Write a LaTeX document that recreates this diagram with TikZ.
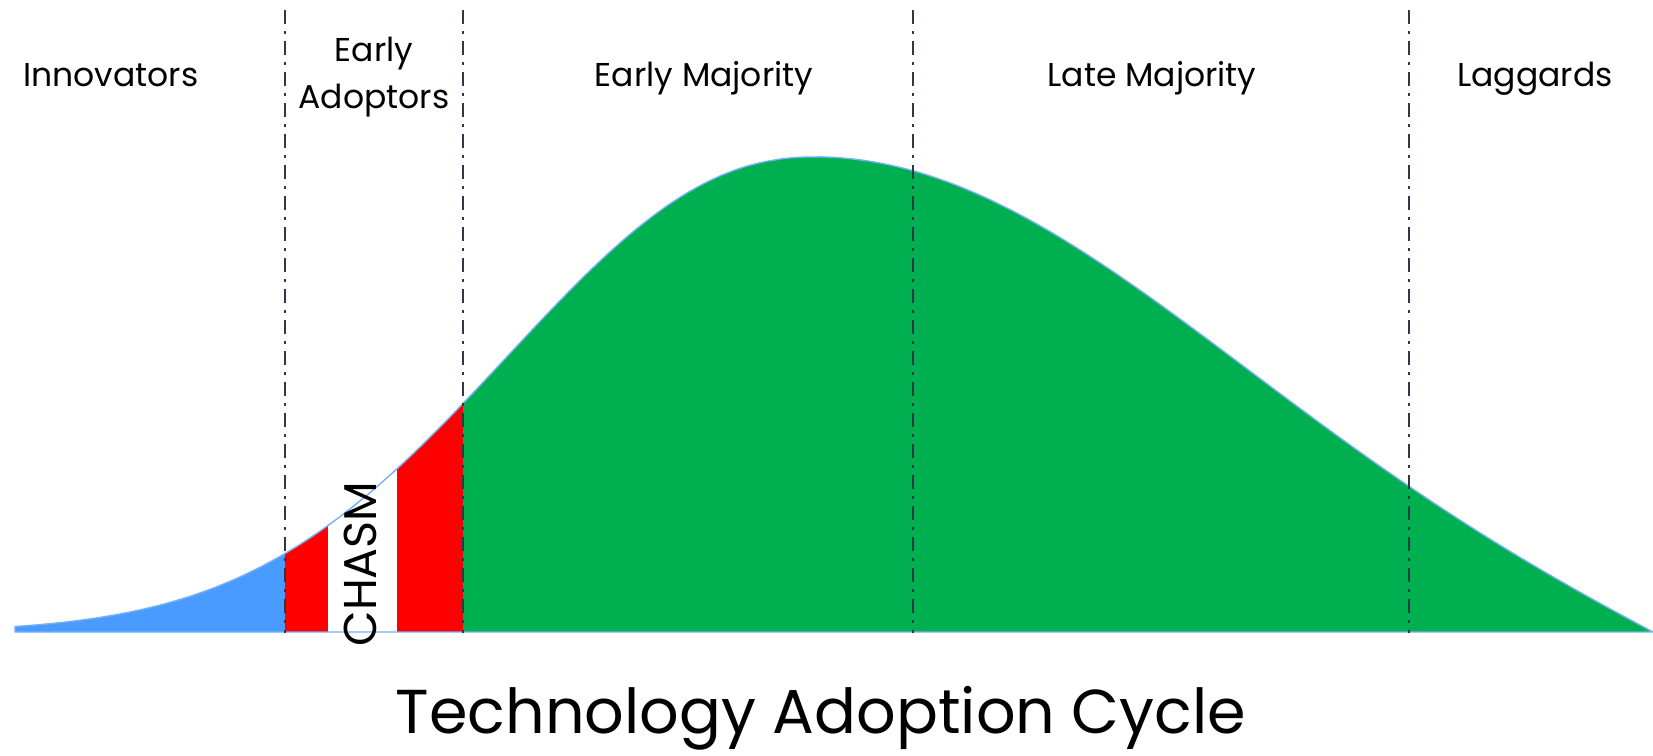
\documentclass[tikz,border=0pt]{standalone}
\usepackage{fontspec}
\setmainfont{Poppins}
\definecolor{innoblue}{RGB}{74,155,255}
\definecolor{chasmred}{RGB}{255,0,0}
\definecolor{majgreen}{RGB}{0,176,80}
\definecolor{edgeblue}{RGB}{120,175,245}
\definecolor{splitgray}{RGB}{46,56,70}
\begin{document}
\begin{tikzpicture}[x=0.5pt,y=-0.5pt,
    split/.style={splitgray,line width=1.1pt,dash pattern=on 7pt off 3.5pt on 1.5pt off 3.5pt},
    phase/.style={font=\fontsize{16.5}{23.5}\selectfont,align=center,anchor=base,inner sep=0pt}]
    \useasboundingbox (0,0) rectangle (1653,755);
    \path[save path=\bellarea] (15,632) -- plot[domain=15:1653,samples=320,smooth]
        (\x,{632-(\x<815 ? 475*exp(-0.5*(abs(815-\x)/296)^2.2) : 475*(exp(-0.5*(abs(\x-815)/403)^2)-0.1151*(abs(\x-815)/838)^3.83))}) -- cycle;
    \begin{scope}
        \clip[use path=\bellarea];
        \fill[innoblue] (0,100) rectangle (285,640);
        \fill[chasmred] (285,100) rectangle (328,640);
        \fill[chasmred] (397,100) rectangle (463,640);
        \fill[majgreen] (463,100) rectangle (1660,640);
    \end{scope}
    \draw[edgeblue,line width=0.7pt,use path=\bellarea];
    \foreach \xs in {285,463,913,1409}
        \draw[split] (\xs,10) -- (\xs,633);
    \node[phase] (innovators) at (111,86) {Innovators};
    \node[phase] (adopters) at (374,108) {Early\\Adoptors};
    \node[phase] (earlymaj) at (704,86) {Early Majority};
    \node[phase] (latemaj) at (1152,86) {Late Majority};
    \node[phase] (laggards) at (1535,86) {Laggards};
    \node[rotate=90,font=\fontsize{23}{23}\selectfont,inner sep=0pt] (chasm) at (360,564) {CHASM};
    \node[font=\fontsize{31}{31}\selectfont,anchor=base,inner sep=0pt] (title) at (821,733) {Technology Adoption Cycle};
\end{tikzpicture}
\end{document}
